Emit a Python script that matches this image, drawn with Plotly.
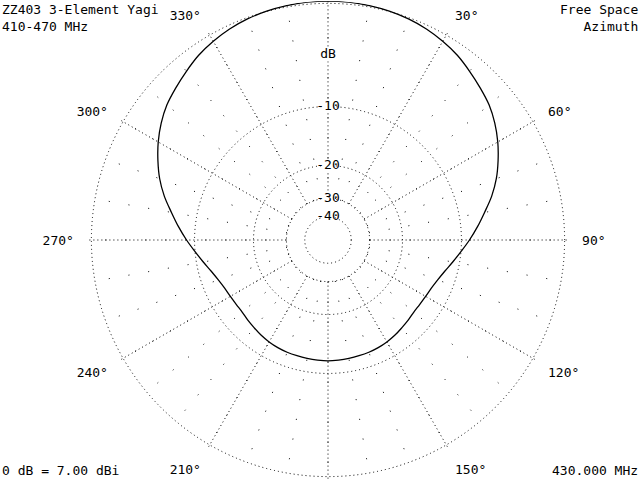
import plotly.graph_objects as go

# azimuth pattern, EZNEC style (ARRL log scale)
azimuth = list(range(0, 361, 5))
gain_db = [
    0.0, -0.02, -0.07, -0.15, -0.27, -0.45, -0.70, -1.0, -1.4, -1.8,
    -2.2, -2.75, -3.4, -4.15, -4.95, -5.9, -7.0, -8.0, -9.0, -10.0,
    -10.9, -11.7, -12.3, -12.7, -12.9, -13.0, -13.0, -12.8, -12.6, -12.35,
    -12.15, -12.0, -11.9, -11.85, -11.8, -11.75, -11.7,
    -11.75, -11.8, -11.85, -11.9, -12.0, -12.15, -12.35, -12.6, -12.8,
    -13.0, -13.0, -12.9, -12.7, -12.3, -11.7, -10.9, -10.0, -9.0, -8.0,
    -7.0, -5.9, -4.95, -4.15, -3.4, -2.75, -2.2, -1.8, -1.4, -1.0,
    -0.70, -0.45, -0.27, -0.15, -0.07, -0.02, 0.0,
]
ring_db = [0, -10, -20, -30, -40]
ring_labels = ["-10", "-20", "-30", "-40"]
angle_ticks = [30, 60, 90, 120, 150, 210, 240, 270, 300, 330]


def arrl(db):
    # ARRL log scale: 0.89 per 2 dB
    return 0.89 ** (-db / 2.0)


FONT = "DejaVu Sans Mono"
dom = dict(x=[89 / 640, 567 / 640], y=[1 / 480, 479 / 480])
hole = arrl(-30)

fig = go.Figure()

# the grid layers have no data; they only carry axes
fig.add_trace(go.Scatterpolar(r=[], theta=[], subplot="polar", showlegend=False))
fig.add_trace(go.Scatterpolar(r=[], theta=[], subplot="polar2", showlegend=False))

fig.add_trace(go.Scatterpolar(
    r=[arrl(x) for x in gain_db],
    theta=azimuth,
    mode="lines",
    line=dict(color="black", width=1.3, shape="spline"),
    subplot="polar3",
    showlegend=False,
))

fig.add_trace(go.Scatterpolar(
    r=[arrl(x) for x in ring_db[1:]] + [0.775],
    theta=[0] * 5,
    mode="markers+text",
    text=ring_labels + ["dB"],
    textposition="middle center",
    textfont=dict(family=FONT, size=13, color="black"),
    marker=dict(symbol="square", size=13, color="white"),
    subplot="polar3",
    showlegend=False,
))

hidden_radial = dict(visible=False, range=[0, 1])
# outer 0 dB ring sits on the plot edge, pull it in a little so it is drawn
ring_r = [arrl(x) for x in ring_db]
ring_r[0] = 0.99

fig.update_layout(
    width=640, height=480,
    margin=dict(l=0, r=0, t=0, b=0),
    paper_bgcolor="white",
    plot_bgcolor="white",
    font=dict(family=FONT, size=13, color="black"),
    polar=dict(
        domain=dom, hole=hole, bgcolor="white",
        radialaxis=hidden_radial,
        angularaxis=dict(rotation=90, direction="clockwise", dtick=10,
                         showline=False, showticklabels=False, ticks="",
                         showgrid=True, gridcolor="black", gridwidth=1,
                         griddash="1px,19px"),
    ),
    polar2=dict(
        domain=dom, hole=hole, bgcolor="rgba(0,0,0,0)",
        radialaxis=hidden_radial,
        angularaxis=dict(rotation=90, direction="clockwise", dtick=30,
                         showline=False, showticklabels=False, ticks="",
                         showgrid=True, gridcolor="black", gridwidth=1,
                         griddash="1px,3px"),
    ),
    polar3=dict(
        domain=dom, bgcolor="rgba(0,0,0,0)",
        radialaxis=dict(range=[0, 1], tickmode="array",
                        tickvals=ring_r,
                        showticklabels=False, ticks="", showline=False,
                        showgrid=True, gridcolor="black", gridwidth=1,
                        griddash="1px,3px"),
        angularaxis=dict(rotation=90, direction="clockwise",
                         tickmode="array", tickvals=angle_ticks,
                         ticktext=[f"{a}°" for a in angle_ticks],
                         showgrid=False, showline=False,
                         ticks="outside", ticklen=12, tickcolor="white",
                         tickfont=dict(family=FONT, size=13)),
    ),
    annotations=[
        dict(text="ZZ403 3-Element Yagi<br>410-470 MHz", x=0, y=1,
             xref="paper", yref="paper", xanchor="left", yanchor="top",
             align="left", showarrow=False, font=dict(size=13)),
        dict(text="Free Space<br>Azimuth", x=1, y=1,
             xref="paper", yref="paper", xanchor="right", yanchor="top",
             align="right", showarrow=False, font=dict(size=13)),
        dict(text="0 dB = 7.00 dBi", x=0, y=0,
             xref="paper", yref="paper", xanchor="left", yanchor="bottom",
             showarrow=False, font=dict(size=13)),
        dict(text="430.000 MHz", x=1, y=0,
             xref="paper", yref="paper", xanchor="right", yanchor="bottom",
             showarrow=False, font=dict(size=13)),
    ],
)

fig.write_html("out.html", config={"displayModeBar": False},
               post_script="document.body.style.margin='0px';")
